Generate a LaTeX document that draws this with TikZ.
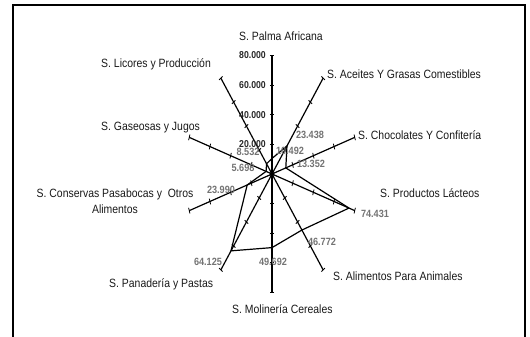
\documentclass[tikz,border=0pt]{standalone}
\usepackage{fontspec}
\setmainfont{Liberation Sans}
\newfontfamily\narrowfont[FakeStretch=0.87]{Liberation Sans}
\tikzset{
  axisline/.style={line width=1.2pt},
  tickmark/.style={line width=0.8pt},
  polyline/.style={line width=1.2pt, line join=round},
  catlabel/.style={font=\narrowfont\fontsize{12}{16}\selectfont, text=black!90, inner sep=0pt, align=center},
  datalabel/.style={font=\narrowfont\bfseries\fontsize{10.5}{12}\selectfont, text=black!55, inner sep=0pt},
  ticklabel/.style={font=\narrowfont\bfseries\fontsize{10}{12}\selectfont, text=black!85, inner sep=0pt, anchor=east},
}
\begin{document}
\begin{tikzpicture}[x=1pt,y=-1pt]
\useasboundingbox (0,0) rectangle (530,337);
% frame
\draw[line width=2.3pt] (13,345) -- (13,5) -- (525,5) -- (525,345);
\coordinate (O) at (272,174);
\begin{scope}[shift={(O)}, x=0.87pt, y=1.185pt]
  % axes with ticks
  \foreach \a [count=\i] in {90,54,18,-18,-54,-90,-126,-162,162,126} {
    \coordinate (e\i) at (\a:100);
    \draw[axisline] (O) -- (e\i);
    \foreach \r in {25,50,75,100}
      \draw[tickmark] ([shift={(\a+90:2.5)}]\a:\r) -- ([shift={(\a-90:2.5)}]\a:\r);
  }
  % scale marks on the vertical axis
  \foreach \r/\t in {25/20.000,50/40.000,75/60.000,100/80.000} {
    \coordinate (t\r) at (90:\r);
    \node[ticklabel] at ([xshift=-6pt]t\r) {\t};
  }
  % data points
  \foreach \a/\v [count=\i] in {90/10.492,54/23.438,18/13.352,-18/74.431,-54/46.772,
      -90/49.692,-126/64.125,-162/23.990,162/5.698,126/8.532}
    \coordinate (d\i) at (\a:\v*1.25);
  \draw[polyline] (d1) -- (d2) -- (d3) -- (d4) -- (d5) -- (d6) -- (d7) -- (d8) -- (d9) -- (d10) -- cycle;
\end{scope}
\fill (O) circle (2.3pt);

% value labels
\node[datalabel] (v1) at (290,151) {10.492};
\node[datalabel] (v2) at (310,135) {23.438};
\node[datalabel] (v3) at (311,164) {13.352};
\node[datalabel] (v4) at (375,214) {74.431};
\node[datalabel] (v5) at (322,242) {46.772};
\node[datalabel] (v6) at (273,262) {49.692};
\node[datalabel] (v7) at (208,262) {64.125};
\node[datalabel] (v8) at (221,190) {23.990};
\node[datalabel] (v9) at (243,168) {5.698};
\node[datalabel] (v10) at (248,152) {8.532};

% category labels
\node[catlabel, anchor=west] (palma) at (239,36) {S. Palma Africana};
\node[catlabel, anchor=west] (aceites) at (327,74) {S. Aceites Y Grasas Comestibles};
\node[catlabel, anchor=west] (choco) at (358,135) {S. Chocolates Y Confitería};
\node[catlabel, anchor=west] (lacteos) at (380,193) {S. Productos Lácteos};
\node[catlabel, anchor=west] (animales) at (333,276) {S. Alimentos Para Animales};
\node[catlabel, anchor=west] (molineria) at (232,309) {S. Molinería Cereales};
\node[catlabel, anchor=west] (panaderia) at (109,284) {S. Panadería y Pastas};
\node[catlabel] (conservas) at (115,201) {S. Conservas Pasabocas y\ \ Otros\\Alimentos};
\node[catlabel, anchor=west] (gaseosas) at (101,128) {S. Gaseosas y Jugos};
\node[catlabel, anchor=west] (licores) at (101,64) {S. Licores y Producción};
\end{tikzpicture}
\end{document}
